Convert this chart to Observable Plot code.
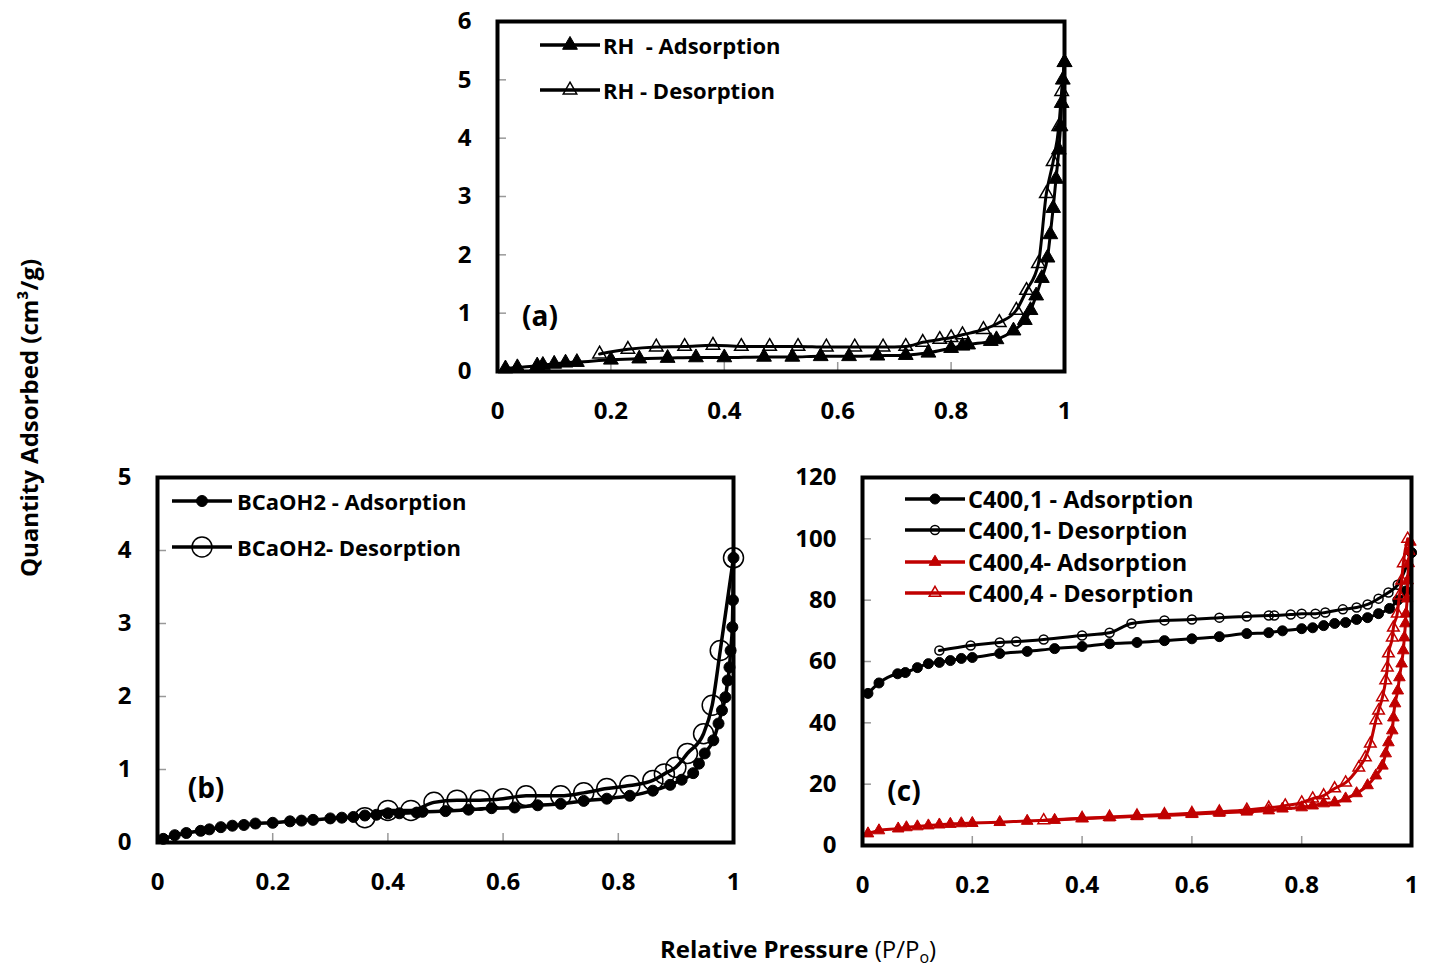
<!DOCTYPE html>
<html>
<head>
<meta charset="utf-8">
<script src="https://cdn.jsdelivr.net/npm/d3@7"></script>
<script src="https://cdn.jsdelivr.net/npm/@observablehq/plot@0.6"></script>
<style>
  body { margin: 0; background: #fff; }
  #root { position: relative; width: 1431px; height: 970px; overflow: hidden; font-family: "Open Sans", sans-serif; color: #000; }
  .abs { position: absolute; }
  .lg { position: absolute; display: flex; align-items: center; height: 30px; font-weight: bold; white-space: nowrap; }
  .lg svg { flex: none; }
  .plab { position: absolute; transform: translate(-50%, -50%); font-weight: bold; font-size: 28px; }
</style>
</head>
<body>
<div id="root"></div>
<script>
// ---------- data ----------
const xTicks = [0, 0.2, 0.4, 0.6, 0.8, 1];
const xTickLabels = ["0", "0.2", "0.4", "0.6", "0.8", "1"];
const yTicksA = [0, 1, 2, 3, 4, 5, 6];
const yTicksB = [0, 1, 2, 3, 4, 5];
const yTicksC = [0, 20, 40, 60, 80, 100, 120];

// (a) RH
const rhAdsX = [0.014,0.035,0.07,0.08,0.10,0.12,0.14,0.20,0.25,0.30,0.35,0.40,0.47,0.52,0.57,0.62,0.67,0.72,0.76,0.80,0.82,0.83,0.87,0.88,0.91,0.93,0.94,0.95,0.96,0.97,0.975,0.98,0.985,0.99,0.993,0.995,0.997,1.0];
const rhAdsY = [0.05,0.07,0.10,0.11,0.13,0.15,0.16,0.20,0.22,0.23,0.24,0.24,0.25,0.25,0.26,0.26,0.27,0.28,0.32,0.40,0.44,0.46,0.52,0.55,0.70,0.88,1.05,1.3,1.6,1.95,2.35,2.8,3.3,3.8,4.2,4.6,5.0,5.3];
const rhDesX = [0.18,0.23,0.28,0.33,0.38,0.43,0.48,0.53,0.58,0.63,0.68,0.72,0.75,0.78,0.80,0.82,0.857,0.885,0.915,0.933,0.954,0.968,0.98,0.99,0.995,1.0];
const rhDesY = [0.30,0.38,0.42,0.43,0.45,0.43,0.43,0.43,0.42,0.42,0.42,0.43,0.50,0.55,0.58,0.63,0.72,0.84,1.05,1.39,1.85,3.05,3.6,4.2,4.8,5.3];

// (b) BCaOH2
const bAdsX = [0.01,0.03,0.05,0.075,0.09,0.11,0.13,0.15,0.17,0.20,0.23,0.25,0.27,0.30,0.32,0.34,0.36,0.38,0.40,0.42,0.45,0.46,0.50,0.54,0.58,0.62,0.66,0.70,0.74,0.78,0.82,0.86,0.89,0.91,0.93,0.94,0.95,0.965,0.974,0.98,0.986,0.99,0.993,0.995,0.998,0.999,1.0];
const bAdsY = [0.05,0.10,0.13,0.16,0.18,0.21,0.23,0.24,0.26,0.27,0.29,0.30,0.31,0.33,0.34,0.35,0.37,0.38,0.40,0.40,0.41,0.42,0.43,0.45,0.47,0.48,0.51,0.53,0.57,0.60,0.64,0.71,0.79,0.86,0.95,1.08,1.22,1.40,1.63,1.81,1.99,2.22,2.40,2.63,2.95,3.32,3.90];
const bDesX = [0.36,0.40,0.44,0.48,0.52,0.56,0.60,0.64,0.70,0.74,0.78,0.82,0.86,0.88,0.90,0.92,0.948,0.963,0.977,1.0];
const bDesY = [0.34,0.44,0.44,0.55,0.58,0.58,0.60,0.64,0.64,0.68,0.74,0.78,0.85,0.94,1.03,1.22,1.49,1.88,2.63,3.90];

// (c) C400,1 and C400,4
const c1AdsX = [0.01,0.03,0.064,0.078,0.10,0.12,0.14,0.16,0.18,0.20,0.25,0.30,0.35,0.40,0.45,0.50,0.55,0.60,0.65,0.70,0.74,0.765,0.80,0.82,0.84,0.86,0.88,0.90,0.92,0.94,0.96,0.975,0.99,1.0];
const c1AdsY = [49.6,53,56,56.4,58,59.3,59.7,60.3,61,61.3,62.6,63.3,64.2,64.9,65.8,66.2,66.8,67.4,68.1,69.1,69.4,70,70.7,71,71.7,72.4,72.7,73.7,74.3,75.6,77.3,80,83,95.5];
const c1DesX = [0.14,0.197,0.25,0.28,0.33,0.40,0.45,0.49,0.55,0.60,0.65,0.70,0.74,0.75,0.78,0.80,0.825,0.843,0.875,0.90,0.92,0.94,0.958,0.975,1.0];
const c1DesY = [63.6,65.2,66.2,66.5,67.2,68.5,69.4,72.4,73.4,73.7,74.3,74.7,75,75,75.3,75.6,75.6,76,77,77.6,78.6,80.5,82.5,85,95.5];
const c4AdsX = [0.01,0.03,0.065,0.08,0.10,0.12,0.14,0.16,0.18,0.20,0.25,0.30,0.35,0.40,0.45,0.50,0.55,0.60,0.65,0.70,0.74,0.765,0.80,0.82,0.84,0.86,0.88,0.90,0.92,0.935,0.947,0.953,0.958,0.965,0.967,0.97,0.975,0.978,0.982,0.985,0.987,0.989,0.99,0.992,0.993,0.995,0.996,0.998];
const c4AdsY = [3.9,4.9,5.5,5.9,6.2,6.5,6.8,7.0,7.2,7.3,7.6,8.0,8.3,8.8,9.1,9.5,9.8,10.2,10.6,11.0,11.4,12,12.4,13,13.7,14,15.3,17,19.6,22.8,26,30,33.6,37.5,41.7,46.3,50.5,54.8,59.3,63.6,67.8,72.4,75.6,80.5,86.4,92,96,99];
const c4DesX = [0.33,0.40,0.45,0.50,0.55,0.60,0.65,0.70,0.74,0.77,0.80,0.82,0.84,0.86,0.88,0.904,0.916,0.925,0.935,0.94,0.947,0.953,0.956,0.958,0.965,0.967,0.974,0.978,0.982,0.985,0.993];
const c4DesY = [8.2,8.9,9.3,9.7,10.1,10.5,11.0,11.6,12.3,13.0,14,15.3,16.3,18.6,20.5,25.4,28.7,33.2,40.8,44,48.3,53.8,58,62.6,67.8,71,75.6,81.5,86.4,92,100];

const RED = "#c00000";

// ---------- helpers ----------
const root = document.getElementById("root");
const zip = (xs, ys) => xs.map((x, i) => ({x, y: ys[i]}));

function seriesMarks(xs, ys, {color, symbol, r, filled, sw}) {
  const data = zip(xs, ys);
  return [
    Plot.line(data, {x: "x", y: "y", stroke: color, strokeWidth: sw, curve: "monotone-x"}),
    Plot.dot(data, {x: "x", y: "y", symbol, r, fill: filled ? color : "none", stroke: color, strokeWidth: filled ? 1 : 1.5})
  ];
}

function panel({left, top, width, height, mL, mR, mT, mB, yDomain, yTicks, series}) {
  const plotW = width - mL - mR, plotH = height - mT - mB;
  const chart = Plot.plot({
    width, height,
    marginLeft: mL, marginRight: mR, marginTop: mT, marginBottom: mB,
    x: {domain: [0, 1], label: null},
    y: {domain: yDomain, label: null},
    style: {fontFamily: "Open Sans", fontSize: "24px", fontWeight: "bold", background: "transparent", overflow: "visible", color: "black"},
    marks: [
      Plot.tickX(xTicks, {x: d => d, stroke: "#999", strokeWidth: 1.5, insetTop: plotH - 9}),
      Plot.tickY(yTicks, {y: d => d, stroke: "#999", strokeWidth: 1.5, insetRight: plotW - 9}),
      ...series.flatMap(s => seriesMarks(s.x, s.y, s)),
      Plot.frame({stroke: "black", strokeWidth: 4}),
      Plot.axisX(xTicks, {label: null, tickSize: 0, tickPadding: 30, tickFormat: d => xTickLabels[xTicks.indexOf(d)], fontSize: 24, fontWeight: "bold"}),
      Plot.axisY(yTicks, {label: null, tickSize: 0, tickPadding: 26, tickFormat: d => String(d), fontSize: 24, fontWeight: "bold"})
    ]
  });
  const wrap = document.createElement("div");
  wrap.className = "abs";
  wrap.style.left = left + "px";
  wrap.style.top = top + "px";
  wrap.appendChild(chart);
  root.appendChild(wrap);
}

function legendRow({x0, xm, xt, cy, label, color, symbol, r, filled, fontSize}) {
  const w = xt - x0;
  const lineEnd = 2 * (xm - x0);
  const path = d3.symbol(symbol === "triangle" ? d3.symbolTriangle : d3.symbolCircle, Math.PI * r * r)();
  const div = document.createElement("div");
  div.className = "lg";
  div.style.left = x0 + "px";
  div.style.top = (cy - 15) + "px";
  div.style.fontSize = fontSize + "px";
  div.innerHTML =
    `<svg width="${w}" height="30"><line x1="0" x2="${lineEnd}" y1="15" y2="15" stroke="${color}" stroke-width="3.5"/>` +
    `<path d="${path}" transform="translate(${xm - x0},15)" fill="${filled ? color : "none"}" stroke="${color}" stroke-width="${filled ? 1 : 1.5}"/></svg>` +
    `<span style="color:#000">${label}</span>`;
  root.appendChild(div);
}

function textAt(cx, cy, html, cls, extra) {
  const d = document.createElement("div");
  d.className = cls;
  d.style.left = cx + "px";
  d.style.top = cy + "px";
  if (extra) Object.assign(d.style, extra);
  d.innerHTML = html;
  root.appendChild(d);
}

// ---------- panels ----------
panel({
  left: 420, top: 0, width: 690, height: 430, mL: 77, mR: 46, mT: 21, mB: 59,
  yDomain: [0, 6], yTicks: yTicksA,
  series: [
    {x: rhAdsX, y: rhAdsY, color: "black", symbol: "triangle", r: 5.5, filled: true, sw: 3},
    {x: rhDesX, y: rhDesY, color: "black", symbol: "triangle", r: 5, filled: false, sw: 3}
  ]
});
panel({
  left: 80, top: 460, width: 700, height: 470, mL: 77, mR: 47, mT: 17, mB: 88,
  yDomain: [0, 5], yTicks: yTicksB,
  series: [
    {x: bAdsX, y: bAdsY, color: "black", symbol: "circle", r: 5.5, filled: true, sw: 3.5},
    {x: bDesX, y: bDesY, color: "black", symbol: "circle", r: 10, filled: false, sw: 3.5}
  ]
});
panel({
  left: 785, top: 460, width: 646, height: 470, mL: 77, mR: 20, mT: 17, mB: 85,
  yDomain: [0, 120], yTicks: yTicksC,
  series: [
    {x: c1AdsX, y: c1AdsY, color: "black", symbol: "circle", r: 5, filled: true, sw: 3},
    {x: c1DesX, y: c1DesY, color: "black", symbol: "circle", r: 4.5, filled: false, sw: 3},
    {x: c4AdsX, y: c4AdsY, color: RED, symbol: "triangle", r: 4.3, filled: true, sw: 3},
    {x: c4DesX, y: c4DesY, color: RED, symbol: "triangle", r: 4.3, filled: false, sw: 3}
  ]
});

// ---------- legends ----------
legendRow({x0: 540, xm: 570, xt: 603, cy: 45, label: "RH&nbsp; - Adsorption", color: "black", symbol: "triangle", r: 5.5, filled: true, fontSize: 22});
legendRow({x0: 540, xm: 570, xt: 603, cy: 90, label: "RH - Desorption", color: "black", symbol: "triangle", r: 5, filled: false, fontSize: 22});
legendRow({x0: 172, xm: 202, xt: 237, cy: 501, label: "BCaOH2 - Adsorption", color: "black", symbol: "circle", r: 5.5, filled: true, fontSize: 22});
legendRow({x0: 172, xm: 202, xt: 237, cy: 547, label: "BCaOH2- Desorption", color: "black", symbol: "circle", r: 10, filled: false, fontSize: 22});
legendRow({x0: 905, xm: 935, xt: 968, cy: 499, label: "C400,1 - Adsorption", color: "black", symbol: "circle", r: 5, filled: true, fontSize: 23.5});
legendRow({x0: 905, xm: 935, xt: 968, cy: 530, label: "C400,1- Desorption", color: "black", symbol: "circle", r: 4.5, filled: false, fontSize: 23.5});
legendRow({x0: 905, xm: 935, xt: 968, cy: 562, label: "C400,4- Adsorption", color: RED, symbol: "triangle", r: 4.3, filled: true, fontSize: 23.5});
legendRow({x0: 905, xm: 935, xt: 968, cy: 593, label: "C400,4 - Desorption", color: RED, symbol: "triangle", r: 4.3, filled: false, fontSize: 23.5});

// ---------- panel labels & axis titles ----------
textAt(540, 315, "(a)", "plab");
textAt(206, 787, "(b)", "plab");
textAt(904, 790, "(c)", "plab");
textAt(28, 418, "Quantity Adsorbed (cm³/g)", "abs", {transform: "translate(-50%,-50%) rotate(-90deg)", fontWeight: "bold", fontSize: "24px", whiteSpace: "nowrap"});
textAt(798, 950, "<b>Relative Pressure</b> (P/P<span style='font-size:16px;position:relative;top:5px'>o</span>)", "abs", {transform: "translate(-50%,-50%)", fontSize: "24px", whiteSpace: "nowrap", lineHeight: "28px"});
</script>
</body>
</html>
